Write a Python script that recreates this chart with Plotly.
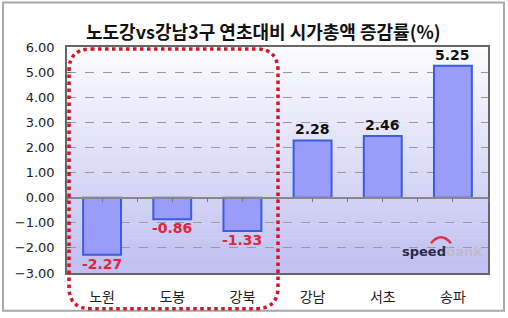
import plotly.graph_objects as go

categories = ["노원", "도봉", "강북", "강남", "서초", "송파"]
values = [-2.27, -0.86, -1.33, 2.28, 2.46, 5.25]
label_colors = ["#e0243c" if v < 0 else "#111111" for v in values]
y_ticks = [-3, -2, -1, 0, 1, 2, 3, 4, 5, 6]
title_text = "노도강vs강남3구 연초대비 시가총액 증감률(%)"

W, H = 508, 318
L, R, T, B = 67, 488, 47, 275
FONT = "Noto Sans CJK KR"
NUMFONT = "DejaVu Sans"

def px(x):
    return (x - L) / (R - L)

def py(y):
    return (B - y) / (B - T)

fig = go.Figure()
fig.add_trace(go.Bar(
    x=categories, y=values, width=0.54,
    marker=dict(color="#9a9cfa", line=dict(color="#3a5ce0", width=2)),
    hoverinfo="x+y",
))
# helper axis for tick marks on zero line
fig.add_trace(go.Scatter(x=[0], y=[0], xaxis="x2", mode="markers",
                         marker=dict(opacity=0), hoverinfo="skip", showlegend=False))

shapes = []
# gradient background
n = 46
for i in range(n):
    t = i / (n - 1)
    r = int(252 - t * (252 - 192))
    g = int(252 - t * (252 - 192))
    b = int(255 - t * (255 - 242))
    shapes.append(dict(type="rect", xref="paper", yref="paper", x0=0, x1=1,
                       y0=1 - (i + 1) / n, y1=1 - i / n + 0.002,
                       fillcolor=f"rgb({r},{g},{b})", line=dict(width=0), layer="below"))
# outer frame
shapes.append(dict(type="rect", xref="paper", yref="paper",
                   x0=px(3), x1=px(504), y0=py(313), y1=py(2),
                   line=dict(color="#a8a8a8", width=2), layer="below"))
# red dotted rounded rectangle
x0, x1, y0, y1, rr = px(69), px(278), py(311), py(49), 22
rx, ry = rr / (R - L), rr / (B - T)
path = (f"M {x0+rx},{y1} L {x1-rx},{y1} Q {x1},{y1} {x1},{y1-ry} "
        f"L {x1},{y0+ry} Q {x1},{y0} {x1-rx},{y0} L {x0+rx},{y0} "
        f"Q {x0},{y0} {x0},{y0+ry} L {x0},{y1-ry} Q {x0},{y1} {x0+rx},{y1} Z")
shapes.append(dict(type="path", xref="paper", yref="paper", path=path,
                   line=dict(color="#d4142a", width=3.5, dash="dot"), layer="above"))
# logo arch
ax0, ax1 = px(431), px(451)
shapes.append(dict(type="path", xref="paper", yref="paper",
                   path=f"M {ax0},{py(245)} Q {(ax0+ax1)/2},{py(233)} {ax1},{py(245)}",
                   line=dict(color="#e0304a", width=2.5)))

annotations = [
    dict(text=f"<b>{title_text}</b>", xref="paper", yref="paper",
         x=px(263), y=py(16), showarrow=False, font=dict(size=18, family=FONT, color="#111")),
    dict(text="<b><span style='color:#2a2a48'>speed</span><span style='color:#bcbccc'>bank</span></b>",
         xref="paper", yref="paper", x=px(400), y=py(253), xanchor="left", yanchor="middle",
         showarrow=False, font=dict(size=13, family=NUMFONT)),
]
for c, v, col in zip(categories, values, label_colors):
    annotations.append(dict(
        x=c, y=v, xref="x", yref="y", text=f"<b>{v:.2f}</b>", showarrow=False,
        yanchor="top" if v < 0 else "bottom", yshift=1 if v < 0 else 1,
        font=dict(size=14, family=NUMFONT, color=col)))

fig.update_layout(
    width=W, height=H, margin=dict(l=L, r=W - R, t=T, b=H - B),
    paper_bgcolor="white", plot_bgcolor="rgba(0,0,0,0)",
    showlegend=False, bargap=0.46,
    shapes=shapes, annotations=annotations,
    font=dict(family=FONT, color="#222"),
    xaxis=dict(showline=True, mirror=True, linecolor="#666", linewidth=1.5,
               ticks="", tickfont=dict(size=14, color="#222"), showgrid=False,
               ticklabelstandoff=10),
    xaxis2=dict(overlaying="x", anchor="free", position=1/3,
                range=[-0.5, 5.5], tickvals=[i * 0.5 - 0.5 for i in range(13)],
                showticklabels=False, ticks="outside", ticklen=4, tickcolor="#777",
                showline=True, linecolor="#888", linewidth=1.5, showgrid=False, zeroline=False),
    yaxis=dict(range=[-3, 6], tickvals=y_ticks, tickformat=".2f",
               showline=True, mirror=True, linecolor="#666", linewidth=1.5,
               ticks="inside", ticklen=4, tickcolor="#666",
               showgrid=True, gridcolor="#999", griddash="dash", gridwidth=1,
               zeroline=False, tickfont=dict(size=13, color="#222", family=NUMFONT),
               ticklabelstandoff=8),
)
fig.write_html("out.html")
